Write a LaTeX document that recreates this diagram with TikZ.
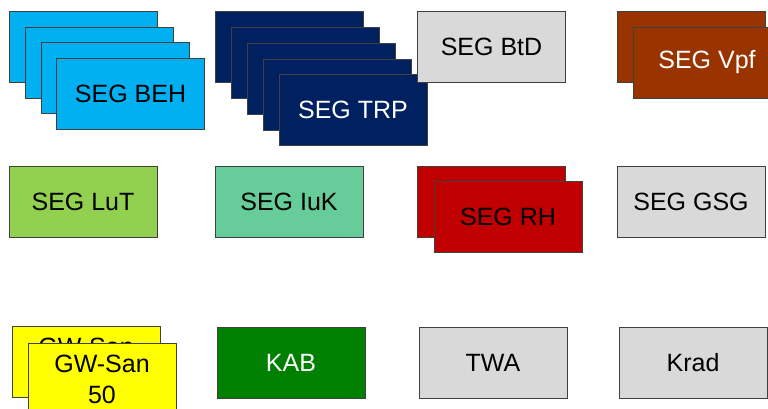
\documentclass[tikz,border=0pt]{standalone}
\usepackage{fontspec}
\setmainfont{Liberation Sans}
\definecolor{behblue}{RGB}{0,176,240}
\definecolor{trpnavy}{RGB}{0,32,96}
\definecolor{vpfbrown}{RGB}{153,51,0}
\definecolor{lutgreen}{RGB}{146,208,80}
\definecolor{iukgreen}{RGB}{102,204,153}
\definecolor{rhred}{RGB}{192,0,0}
\definecolor{boxgray}{RGB}{217,217,217}
\definecolor{kabgreen}{RGB}{0,128,0}
\definecolor{gwyellow}{RGB}{255,255,0}
\tikzset{
  segbox/.style={draw=black!75, line width=0.8pt, minimum width=148pt, minimum height=71pt,
    inner sep=0pt, outer sep=0pt, align=center, font=\fontsize{25}{31}\selectfont},
  whitetext/.style={text=white}
}
\begin{document}
\begin{tikzpicture}[x=1pt,y=-1pt]
\clip (0,0) rectangle (768,408);
\fill[white] (0,0) rectangle (768,408);
% BEH stack
\node[segbox, fill=behblue] (beh1) at (83,46.5) {};
\node[segbox, fill=behblue] (beh2) at (99,62.5) {};
\node[segbox, fill=behblue] (beh3) at (115,78) {};
\node[segbox, fill=behblue] (beh4) at (130.5,93.5) {SEG BEH};
% TRP stack
\node[segbox, fill=trpnavy] (trp1) at (289,46.5) {};
\node[segbox, fill=trpnavy] (trp2) at (305,62.5) {};
\node[segbox, fill=trpnavy] (trp3) at (321,78.5) {};
\node[segbox, fill=trpnavy] (trp4) at (337,94.5) {};
\node[segbox, fill=trpnavy, whitetext] (trp5) at (353,110) {SEG TRP};
% BtD
\node[segbox, fill=boxgray] (btd) at (491.5,46.5) {SEG BtD};
% Vpf
\node[segbox, fill=vpfbrown] (vpf1) at (691,46.5) {};
\node[segbox, fill=vpfbrown, whitetext] (vpf2) at (707,62.5) {SEG Vpf};
% Row 2
\node[segbox, fill=lutgreen] (lut) at (83,202) {SEG LuT};
\node[segbox, fill=iukgreen] (iuk) at (289,202) {SEG IuK};
\node[segbox, fill=rhred] (rh1) at (491,202) {};
\node[segbox, fill=rhred] (rh2) at (508,217) {SEG RH};
\node[segbox, fill=boxgray] (gsg) at (691,202) {SEG GSG};
% Row 3
\node[segbox, fill=gwyellow] (gw1) at (86,362) {GW-San\\50};
\node[segbox, fill=gwyellow] (gw2) at (102,379) {GW-San\\50};
\node[segbox, fill=kabgreen, whitetext] (kab) at (291,362.5) {KAB};
\node[segbox, fill=boxgray] (twa) at (493,362.5) {TWA};
\node[segbox, fill=boxgray] (krad) at (693,362.5) {Krad};
\end{tikzpicture}
\end{document}
